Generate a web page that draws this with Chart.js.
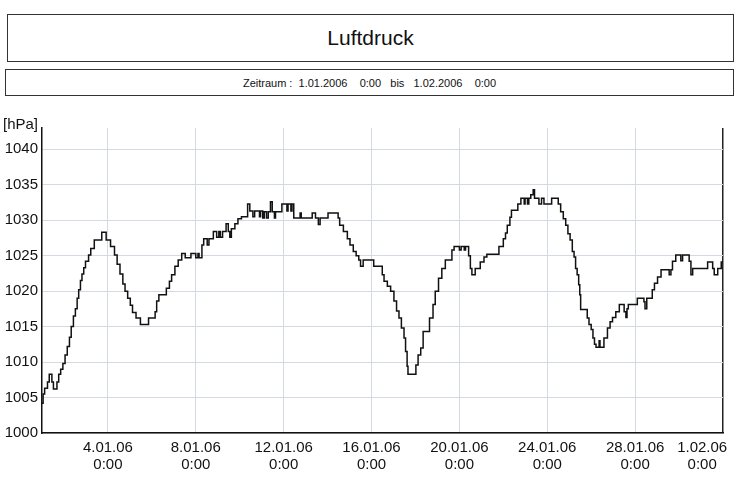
<!DOCTYPE html>
<html>
<head>
<meta charset="utf-8">
<script src="https://cdn.jsdelivr.net/npm/chart.js@4.4.1/dist/chart.umd.min.js"></script>
<style>
    body { margin: 0; background: #fff; font-family: "Liberation Sans", Arial, sans-serif; color: #111; }
    #wrap { position: relative; width: 740px; height: 487px; overflow: hidden; }
    .box { position: absolute; border: 1px solid #333; box-sizing: border-box; display: flex; align-items: center; justify-content: center; }
    #titel { left: 7px; top: 14px; width: 727px; height: 48px; font-size: 21px; }
    #zeit { left: 5px; top: 69px; width: 729px; height: 27px; font-size: 11px; white-space: pre; }
    #chartBox { position: absolute; left: 0; top: 100px; width: 740px; height: 387px; }
</style>
</head>
<body>
<div id="wrap">
    <div class="box" id="titel">Luftdruck</div>
    <div class="box" id="zeit">Zeitraum :  1.01.2006    0:00   bis   1.02.2006    0:00</div>
    <div id="chartBox"><canvas id="luftdruck" width="740" height="387"></canvas></div>
</div>
<script>
// Zeit in Tagen ab 1.01.2006 0:00, Druck in hPa (Treppenkurve)
const tage = [
    0.00, 0.05, 0.12, 0.25, 0.33, 0.45, 0.52, 0.68, 0.76, 0.85, 0.95, 1.05, 1.15, 1.25, 1.33, 1.43,
    1.52, 1.60, 1.67, 1.75, 1.82, 1.90, 1.98, 2.12, 2.22, 2.38, 2.72, 2.92, 3.12, 3.30, 3.42, 3.55,
    3.68, 3.78, 3.90, 4.02, 4.12, 4.28, 4.48, 4.85, 5.15, 5.22, 5.32, 5.66, 5.80, 5.90, 6.05, 6.20,
    6.36, 6.52, 6.78, 7.00, 7.10, 7.15, 7.28, 7.36, 7.52, 7.60, 7.80, 7.95, 8.05, 8.12, 8.22, 8.38,
    8.48, 8.55, 8.62, 8.78, 8.92, 9.08, 9.36, 9.46, 9.60, 9.68, 9.90, 9.95, 10.05, 10.12, 10.22, 10.30,
    10.40, 10.48, 10.58, 10.63, 10.92, 11.15, 11.20, 11.33, 11.38, 11.46, 11.75, 11.80, 12.30, 12.45, 12.58, 12.66,
    13.02, 13.48, 13.55, 13.72, 13.90, 14.02, 14.17, 14.30, 14.42, 14.50, 14.62, 15.10, 15.49, 15.57, 15.72, 15.87,
    16.02, 16.14, 16.25, 16.36, 16.48, 16.55, 16.62, 16.66, 17.02, 17.12, 17.24, 17.35, 17.64, 17.80, 17.90, 18.05,
    18.20, 18.36, 18.66, 18.76, 19.00, 19.08, 19.22, 19.28, 19.42, 19.50, 19.57, 19.72, 19.95, 20.12, 20.25, 20.80,
    21.00, 21.10, 21.18, 21.30, 21.37, 21.66, 21.80, 21.95, 21.99, 22.10, 22.16, 22.25, 22.36, 22.42, 22.62, 22.74,
    22.85, 23.20, 23.50, 23.61, 23.73, 23.84, 23.94, 24.04, 24.14, 24.22, 24.29, 24.36, 24.43, 24.48, 24.52, 24.82,
    24.90, 25.00, 25.08, 25.15, 25.22, 25.36, 25.40, 25.58, 25.74, 25.86, 25.97, 26.12, 26.28, 26.50, 26.58, 26.63,
    26.69, 27.10, 27.40, 27.45, 27.53, 27.78, 27.88, 28.02, 28.18, 28.55, 28.63, 28.70, 28.85, 29.08, 29.16, 29.46,
    29.54, 29.62, 30.30, 30.53, 30.60, 30.76, 30.92, 31.00
];
const druck = [
    1004.2, 1005.5, 1006.3, 1007.2, 1008.3, 1007.2, 1006.2, 1007.2, 1008.3, 1009.0, 1009.8, 1011.0, 1012.2, 1013.5, 1015.0, 1016.5,
    1017.5, 1019.0, 1020.2, 1021.5, 1022.4, 1023.3, 1024.2, 1025.1, 1026.0, 1027.2, 1028.3, 1027.2, 1026.3, 1025.1, 1023.8, 1022.4,
    1021.0, 1020.0, 1019.0, 1018.0, 1017.0, 1016.2, 1015.3, 1016.2, 1017.1, 1018.6, 1019.5, 1020.4, 1021.4, 1022.3, 1023.5, 1024.4,
    1025.3, 1024.7, 1025.3, 1024.7, 1025.3, 1024.7, 1026.5, 1027.4, 1026.5, 1027.4, 1028.4, 1027.6, 1028.4, 1027.6, 1028.4, 1029.5,
    1028.4, 1027.6, 1028.8, 1029.5, 1030.2, 1030.5, 1032.3, 1031.3, 1030.5, 1031.3, 1030.5, 1031.3, 1030.3, 1031.2, 1030.3, 1031.2,
    1032.6, 1031.2, 1030.3, 1031.2, 1032.3, 1031.3, 1032.3, 1031.3, 1032.3, 1030.3, 1031.0, 1030.3, 1031.0, 1030.3, 1029.4, 1030.3,
    1031.0, 1030.3, 1029.3, 1028.4, 1027.4, 1026.5, 1025.6, 1025.0, 1024.4, 1023.5, 1024.4, 1023.5, 1022.3, 1021.4, 1020.7, 1020.0,
    1018.6, 1017.2, 1016.2, 1014.8, 1013.4, 1011.5, 1009.4, 1008.3, 1009.6, 1011.0, 1012.0, 1014.3, 1016.2, 1018.1, 1020.0, 1021.8,
    1023.2, 1024.4, 1025.8, 1026.3, 1025.8, 1026.3, 1025.8, 1026.3, 1025.0, 1023.2, 1022.3, 1023.2, 1024.1, 1024.8, 1025.2, 1026.3,
    1027.4, 1028.2, 1029.3, 1030.4, 1031.4, 1032.3, 1033.1, 1032.3, 1033.1, 1032.3, 1033.1, 1033.6, 1034.3, 1033.1, 1032.3, 1033.1,
    1032.3, 1033.1, 1032.3, 1031.2, 1030.2, 1029.3, 1028.1, 1027.2, 1025.6, 1024.8, 1023.2, 1022.3, 1020.9, 1019.5, 1017.4, 1016.2,
    1015.3, 1014.6, 1013.4, 1012.5, 1012.1, 1013.0, 1012.1, 1013.4, 1014.8, 1015.7, 1016.3, 1017.1, 1018.1, 1017.1, 1016.3, 1017.5,
    1018.1, 1019.0, 1018.5, 1017.5, 1019.0, 1020.2, 1021.1, 1022.0, 1023.0, 1022.3, 1023.0, 1024.2, 1025.1, 1024.3, 1025.1, 1024.2,
    1022.3, 1023.2, 1024.1, 1023.2, 1022.3, 1023.2, 1024.1, 1024.1
];

const xTickTage = [3, 7, 11, 15, 19, 23, 27, 31];
const xTickDatum = ['4.01.06', '8.01.06', '12.01.06', '16.01.06', '20.01.06', '24.01.06', '28.01.06', '1.02.06'];
const xTickZeit = '0:00';
const yMin = 1000, yMax = 1043, yStep = 5;

const schrift = '"Liberation Sans", Arial, sans-serif';
const gitter = '#d5d9e2';

// Einheit oben links
const einheit = {
    id: 'einheit',
    afterDraw(chart) {
        const c = chart.ctx;
        c.save();
        c.font = '15px ' + schrift;
        c.fillStyle = '#111';
        c.textBaseline = 'middle';
        c.fillText('[hPa]', 3, chart.chartArea.top - 3);
        c.restore();
    }
};

new Chart(document.getElementById('luftdruck'), {
    type: 'line',
    data: {
        datasets: [{
            data: tage.map((t, i) => ({ x: t, y: druck[i] })),
            borderColor: '#111',
            borderWidth: 1.5,
            stepped: true,
            pointRadius: 0,
            fill: false
        }]
    },
    options: {
        responsive: false,
        animation: false,
        layout: { padding: { left: 0, right: 17, top: 28, bottom: 0 } },
        plugins: { legend: { display: false }, tooltip: { enabled: false } },
        scales: {
            x: {
                type: 'linear', min: 0, max: 31,
                afterBuildTicks: s => { s.ticks = xTickTage.map(v => ({ value: v })); },
                afterFit: s => { s.height = 54; s.paddingLeft = 0; s.paddingRight = 0; },
                grid: {
                    drawTicks: false,
                    color: ctx => (ctx.tick && ctx.tick.value === 31) ? '#222' : gitter,
                    lineWidth: ctx => (ctx.tick && ctx.tick.value === 31) ? 1.5 : 1
                },
                border: { color: '#111', width: 1.5 },
                ticks: {
                    autoSkip: false, maxRotation: 0, padding: 6, color: '#111',
                    font: { family: schrift, size: 15, lineHeight: 1.15 },
                    callback: v => {
                        const i = xTickTage.indexOf(v);
                        if (i < 0) return '';
                        // letzte Beschriftung nach links geschoben, damit sie ins Bild passt
                        const pad = i === xTickTage.length - 1 ? '          ' : '';
                        return [xTickDatum[i] + pad, xTickZeit + pad];
                    }
                }
            },
            y: {
                min: yMin, max: yMax,
                afterFit: s => { s.width = 42; s.paddingTop = 0; s.paddingBottom = 0; },
                grid: { drawTicks: false, color: gitter },
                border: { color: '#111', width: 1.5 },
                ticks: {
                    stepSize: yStep, includeBounds: false, padding: 4, color: '#111',
                    font: { family: schrift, size: 15 },
                    callback: v => String(v)
                }
            }
        }
    },
    plugins: [einheit]
});
</script>
</body>
</html>
